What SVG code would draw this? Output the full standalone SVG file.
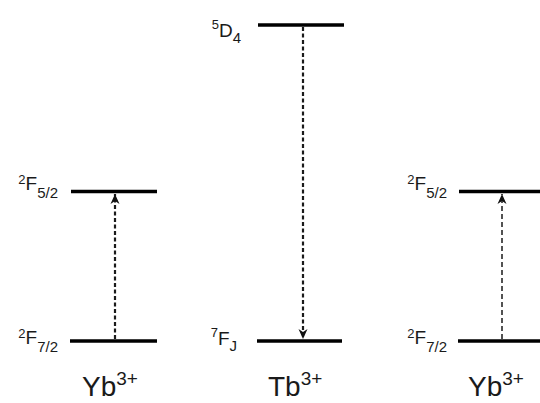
<svg xmlns="http://www.w3.org/2000/svg" width="540" height="403" viewBox="0 0 540 403">
<style>
.lvl{stroke:#000;stroke-width:3.4;fill:none}
.tr{stroke:#1a1a1a;stroke-width:2.2;fill:none;stroke-dasharray:4 2.5}
.t{font-family:"Liberation Sans",Arial,sans-serif;fill:#1a1a1a}
.lab{font-size:19px;text-anchor:end}
.ion{font-size:28px}
</style>
<defs>
<marker id="ah" viewBox="0 0 10 10" refX="10" refY="5" markerWidth="10" markerHeight="10" markerUnits="userSpaceOnUse" orient="auto">
<path d="M0,0.5 L10,5 L0,9.5 L3,5 Z" fill="#111"/>
</marker>
</defs>
<rect width="540" height="403" fill="#fff"/>
<g id="yb-left">
<line class="lvl" x1="71" y1="191.5" x2="157" y2="191.5"/>
<line class="lvl" x1="70" y1="341" x2="157" y2="341"/>
<text class="t lab" x="58" y="190"><tspan font-size="13" dy="-6">2</tspan><tspan dy="6">F</tspan><tspan font-size="15" dy="8">5/2</tspan></text>
<text class="t lab" x="58" y="344"><tspan font-size="13" dy="-6">2</tspan><tspan dy="6">F</tspan><tspan font-size="15" dy="8">7/2</tspan></text>
<text class="t ion" x="82" y="396">Yb<tspan font-size="19" dy="-11">3+</tspan></text>
</g>
<g id="tb">
<line class="lvl" x1="258" y1="25" x2="344" y2="25"/>
<line class="lvl" x1="257" y1="341" x2="342" y2="341"/>
<text class="t lab" x="241" y="37"><tspan font-size="13" dy="-8">5</tspan><tspan dy="8">D</tspan><tspan font-size="15" dy="6">4</tspan></text>
<text class="t lab" x="237" y="345"><tspan font-size="13" dy="-8">7</tspan><tspan dy="8">F</tspan><tspan font-size="15" dy="6">J</tspan></text>
<text class="t ion" x="268" y="396">Tb<tspan font-size="19" dy="-11">3+</tspan></text>
</g>
<g id="yb-right">
<line class="lvl" x1="459" y1="191.5" x2="540" y2="191.5"/>
<line class="lvl" x1="458" y1="341" x2="540" y2="341"/>
<text class="t lab" x="447" y="190"><tspan font-size="13" dy="-6">2</tspan><tspan dy="6">F</tspan><tspan font-size="15" dy="8">5/2</tspan></text>
<text class="t lab" x="447" y="344"><tspan font-size="13" dy="-6">2</tspan><tspan dy="6">F</tspan><tspan font-size="15" dy="8">7/2</tspan></text>
<text class="t ion" x="468" y="396">Yb<tspan font-size="19" dy="-11">3+</tspan></text>
</g>
<g id="connectors">
<line class="tr" x1="115" y1="339" x2="115" y2="194" marker-end="url(#ah)"/>
<line class="tr" x1="303" y1="27" x2="303" y2="339" marker-end="url(#ah)"/>
<line class="tr" x1="502" y1="339" x2="502" y2="194" marker-end="url(#ah)" style="stroke-width:1.5;stroke-dasharray:5 3"/>
</g>
</svg>
